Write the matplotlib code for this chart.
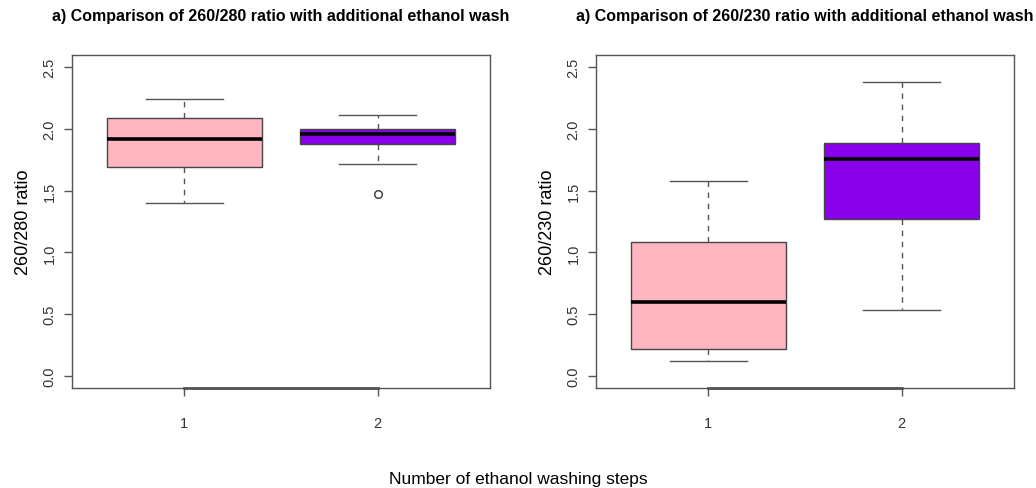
import matplotlib
matplotlib.use("Agg")
import matplotlib.pyplot as plt

plt.rcParams["font.family"] = ["Liberation Sans", "DejaVu Sans"]

# summary stats (whisker low, Q1, median, Q3, whisker high)
groups = ["1", "2"]
ratio_280_low = [1.40, 1.72]
ratio_280_q1 = [1.69, 1.88]
ratio_280_med = [1.92, 1.96]
ratio_280_q3 = [2.09, 2.00]
ratio_280_high = [2.24, 2.11]
ratio_280_fliers = [[], [1.47]]

ratio_230_low = [0.12, 0.53]
ratio_230_q1 = [0.22, 1.27]
ratio_230_med = [0.60, 1.76]
ratio_230_q3 = [1.08, 1.89]
ratio_230_high = [1.58, 2.38]
ratio_230_fliers = [[], []]

box_colors = ["#FFB6C1", "#8A00EA"]
frame_col = "#555555"

panels = [
    ("a) Comparison of 260/280 ratio with additional ethanol wash", "260/280 ratio",
     ratio_280_low, ratio_280_q1, ratio_280_med, ratio_280_q3, ratio_280_high, ratio_280_fliers),
    ("a) Comparison of 260/230 ratio with additional ethanol wash", "260/230 ratio",
     ratio_230_low, ratio_230_q1, ratio_230_med, ratio_230_q3, ratio_230_high, ratio_230_fliers),
]

fig = plt.figure(figsize=(10.36, 4.89), dpi=100)
lefts = [0.0695, 0.5753]

for left, (title, ylab, lo, q1, med, q3, hi, fl) in zip(lefts, panels):
    ax = fig.add_axes([left, 0.2045, 0.4035, 0.681])
    stats = []
    for i in range(len(groups)):
        stats.append({"whislo": lo[i], "q1": q1[i], "med": med[i], "q3": q3[i],
                      "whishi": hi[i], "fliers": fl[i], "label": groups[i]})
    bp = ax.bxp(stats, positions=[1, 2], widths=0.8, patch_artist=True,
                showfliers=True,
                boxprops=dict(edgecolor="#444444", linewidth=1.0),
                medianprops=dict(color="black", linewidth=2.6),
                whiskerprops=dict(color=frame_col, linestyle=(0, (4, 4)), linewidth=1.0),
                capprops=dict(color=frame_col, linewidth=1.0),
                capwidths=0.4,
                flierprops=dict(marker="o", markerfacecolor="none",
                                markeredgecolor="#333333", markersize=5.5))
    for patch, c in zip(bp["boxes"], box_colors):
        patch.set_facecolor(c)

    ax.set_xlim(0.42, 2.58)
    ax.set_ylim(-0.1, 2.6)
    ax.set_yticks([0.0, 0.5, 1.0, 1.5, 2.0, 2.5])
    ax.set_yticklabels(["0.0", "0.5", "1.0", "1.5", "2.0", "2.5"], rotation=90, va="center")
    ax.set_xticks([1, 2])
    ax.set_xticklabels(groups)
    ax.tick_params(axis="both", direction="out", length=6, width=1.0, color=frame_col,
                   labelcolor="#333333", labelsize=10.5)
    ax.tick_params(axis="x", pad=14)
    ax.tick_params(axis="y", pad=5)
    for s in ax.spines.values():
        s.set_color(frame_col)
        s.set_linewidth(1.0)
    # R draws its axis line from the first to the last tick
    ax.plot([1, 2], [-0.1, -0.1], color="#333333", linewidth=1.8, clip_on=False)

    ax.set_ylabel(ylab, fontsize=13, labelpad=8)
    ax.set_title(title, fontsize=11.5, fontweight="bold", pad=25)

fig.text(0.5, 0.005, "Number of ethanol washing steps", ha="center", va="bottom", fontsize=12.5)

fig.savefig("out.png", dpi=100)
